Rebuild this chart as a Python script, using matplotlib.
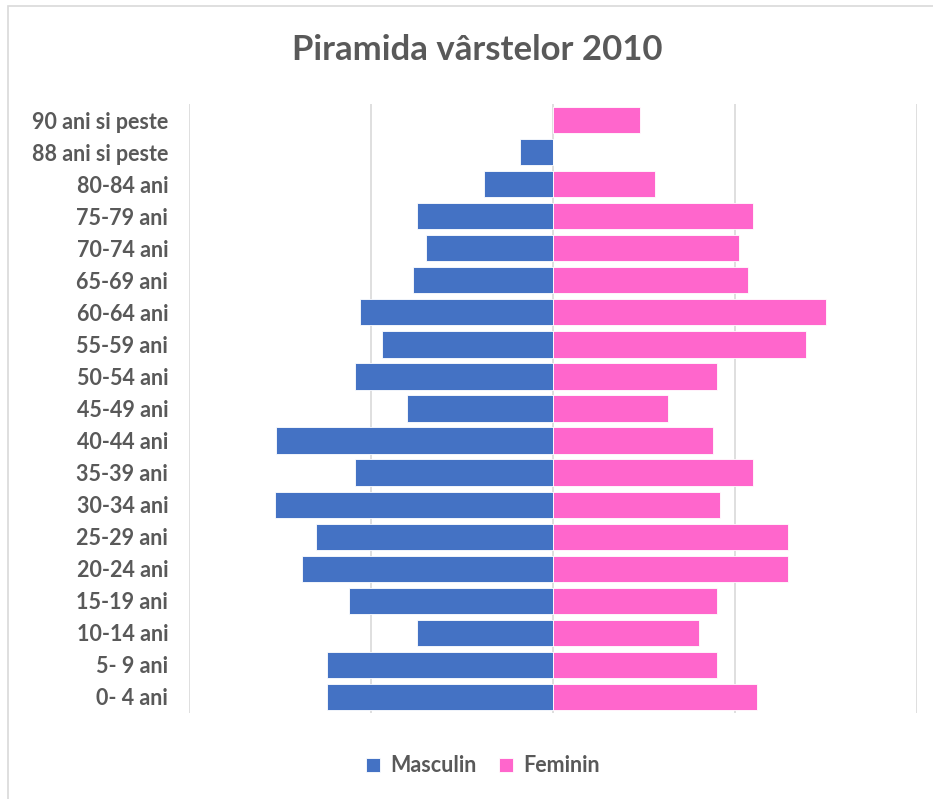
import numpy as np
import matplotlib.pyplot as plt
from matplotlib.patches import Rectangle

plt.rcParams["font.family"] = ["Lato", "DejaVu Sans"]

categories = ["90 ani si peste", "88 ani si peste", "80-84 ani", "75-79 ani",
              "70-74 ani", "65-69 ani", "60-64 ani", "55-59 ani", "50-54 ani",
              "45-49 ani", "40-44 ani", "35-39 ani", "30-34 ani", "25-29 ani",
              "20-24 ani", "15-19 ani", "10-14 ani", "5- 9 ani", "0- 4 ani"]
masculin = [0.0, 1.8, 3.8, 7.5, 7.0, 7.7, 10.6, 9.4, 10.9, 8.0, 15.2, 10.9,
            15.3, 13.0, 13.8, 11.2, 7.5, 12.4, 12.4]
feminin = [4.8, 0.0, 5.6, 11.0, 10.2, 10.7, 15.0, 13.9, 9.0, 6.3, 8.8, 11.0,
           9.2, 12.9, 12.9, 9.0, 8.0, 9.0, 11.2]

blue = "#4472C4"
pink = "#FF66CC"
grid = "#D9D9D9"
text_gray = "#595959"

fig = plt.figure(figsize=(9.33, 7.99), dpi=100)
fig.patches.append(Rectangle((8/933, -0.01), 1.0, 1 - 6/799 + 0.01,
                             transform=fig.transFigure, fill=False,
                             ec="#D9D9D9", lw=1.2, zorder=0))

ax = fig.add_axes([189/933, 1 - 713/799, (917 - 189)/933, (713 - 104)/799])

y = np.arange(len(categories))
ax.barh(y, -np.array(masculin), height=0.82, color=blue, edgecolor="white",
        lw=0.6, label="Masculin", zorder=3)
ax.barh(y, feminin, height=0.82, color=pink, edgecolor="white",
        lw=0.6, label="Feminin", zorder=3)

ax.set_xlim(-20, 20)
ax.set_ylim(len(categories) - 0.5, -0.5)
ax.set_xticks([-20, -10, 0, 10, 20])
ax.xaxis.grid(True, color=grid, lw=1.2, zorder=0)
ax.tick_params(axis="x", length=0, labelbottom=False)
ax.tick_params(axis="y", length=0, pad=15)
ax.set_yticks(y)
ax.set_yticklabels(categories, fontsize=15.5, fontweight="bold", color=text_gray)
for s in ax.spines.values():
    s.set_visible(False)

fig.text(477/933, 1 - 50/799, "Piramida vârstelor 2010", fontsize=25,
         fontweight="bold", color=text_gray, ha="center", va="center")

fig.legend(loc="center", bbox_to_anchor=(483/933, 1 - 766/799), ncol=2,
           frameon=False, handlelength=0.65, handleheight=0.65,
           handletextpad=0.5, columnspacing=1.0,
           prop={"weight": "bold", "size": 15.5})
for t in fig.legends[0].get_texts():
    t.set_color(text_gray)

plt.savefig("out.png", dpi=100)
